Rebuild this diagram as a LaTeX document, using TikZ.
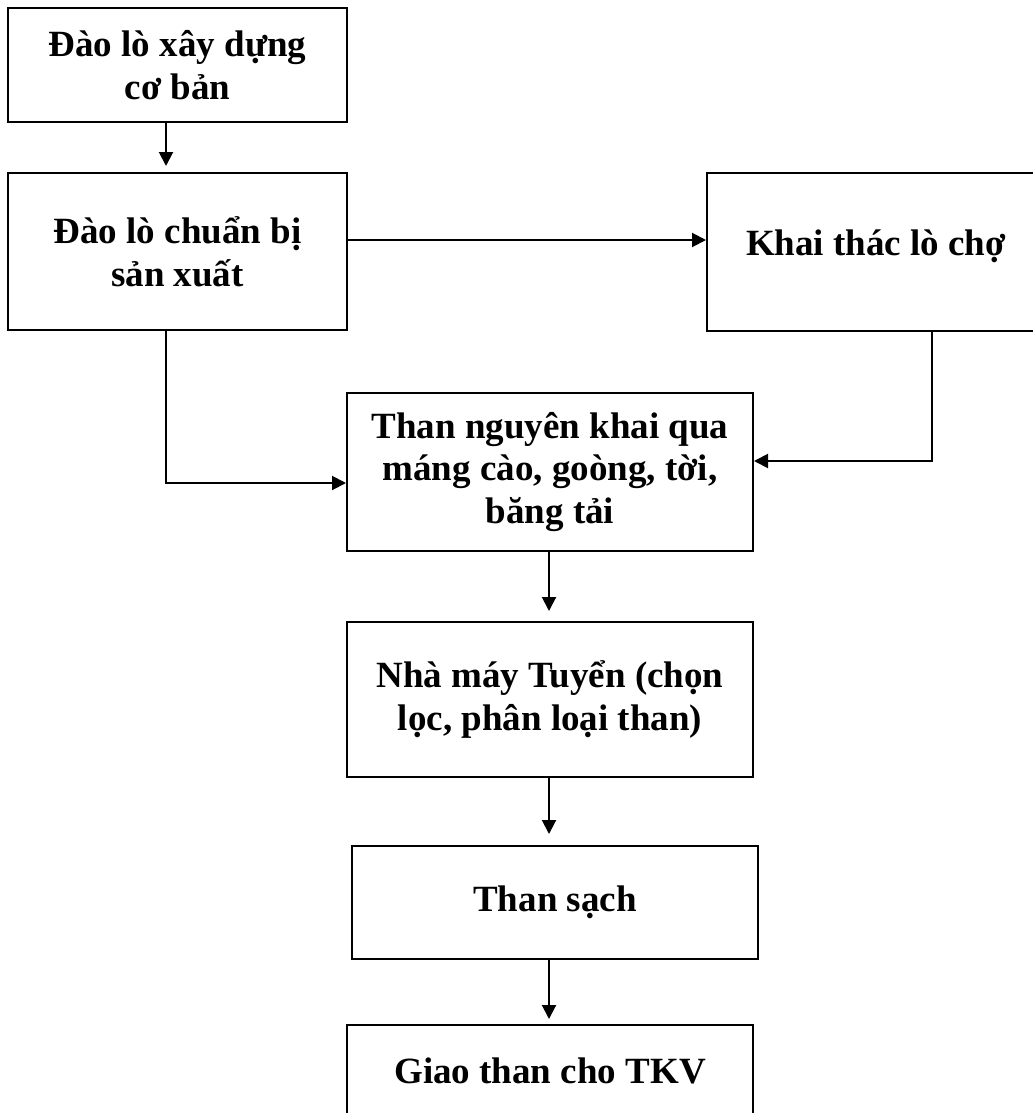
\documentclass[tikz,border=0pt]{standalone}
\usepackage{fontspec}
\setmainfont{Liberation Serif}
\usetikzlibrary{arrows.meta}
\begin{document}
\begin{tikzpicture}[x=0.75pt,y=-0.75pt,
  box/.style={draw,line width=1.5pt,rectangle,inner sep=0pt,align=center,
    font=\fontsize{27.75pt}{32pt}\selectfont\bfseries},
  arr/.style={line width=1.5pt,-{Triangle[length=10.5pt,width=10.5pt]}},
  conn/.style={line width=1.5pt}]
\useasboundingbox (0,0) rectangle (1032,1113);
\node[box,minimum width=339*0.75pt,minimum height=114*0.75pt] (b1) at (177.5,65) {Đào lò xây dựng\\cơ bản};
\node[box,minimum width=339*0.75pt,minimum height=157*0.75pt] (b2) at (177.5,251.5) {Đào lò chuẩn bị\\sản xuất};
\node[box,minimum width=338*0.75pt,minimum height=158*0.75pt,text depth=14pt] (b3) at (876,252) {Khai thác lò chợ};
\node[box,minimum width=406*0.75pt,minimum height=158*0.75pt] (b4) at (550,472) {Than nguyên khai qua\\máng cào, goòng, tời,\\băng tải};
\node[box,minimum width=406*0.75pt,minimum height=155*0.75pt] (b5) at (550,699.5) {Nhà máy Tuyển (chọn\\lọc, phân loại than)};
\node[box,minimum width=406*0.75pt,minimum height=113*0.75pt] (b6) at (555,902.5) {Than sạch};
\node[box,minimum width=406*0.75pt,minimum height=92*0.75pt] (b7) at (550,1071) {Giao than cho TKV};
\coordinate (xl) at (166,0);
\coordinate (xr) at (932,0);
\coordinate (xm) at (549,0);
\coordinate (y23) at (0,240);
\coordinate (y24) at (0,483);
\coordinate (y34) at (0,461);
\draw[arr,shorten >=6*0.75pt] (b1.south -| xl) -- (b2.north -| xl);
\draw[arr] (b2.east |- y23) -- (b3.west |- y23);
\draw[arr] (b2.south -| xl) |- (b4.west |- y24);
\draw[arr] (b3.south -| xr) |- (b4.east |- y34);
\draw[arr,shorten >=10*0.75pt] (b4.south -| xm) -- (b5.north -| xm);
\draw[arr,shorten >=11*0.75pt] (b5.south -| xm) -- (b6.north -| xm);
\draw[arr,shorten >=5*0.75pt] (b6.south -| xm) -- (b7.north -| xm);
\end{tikzpicture}
\end{document}
